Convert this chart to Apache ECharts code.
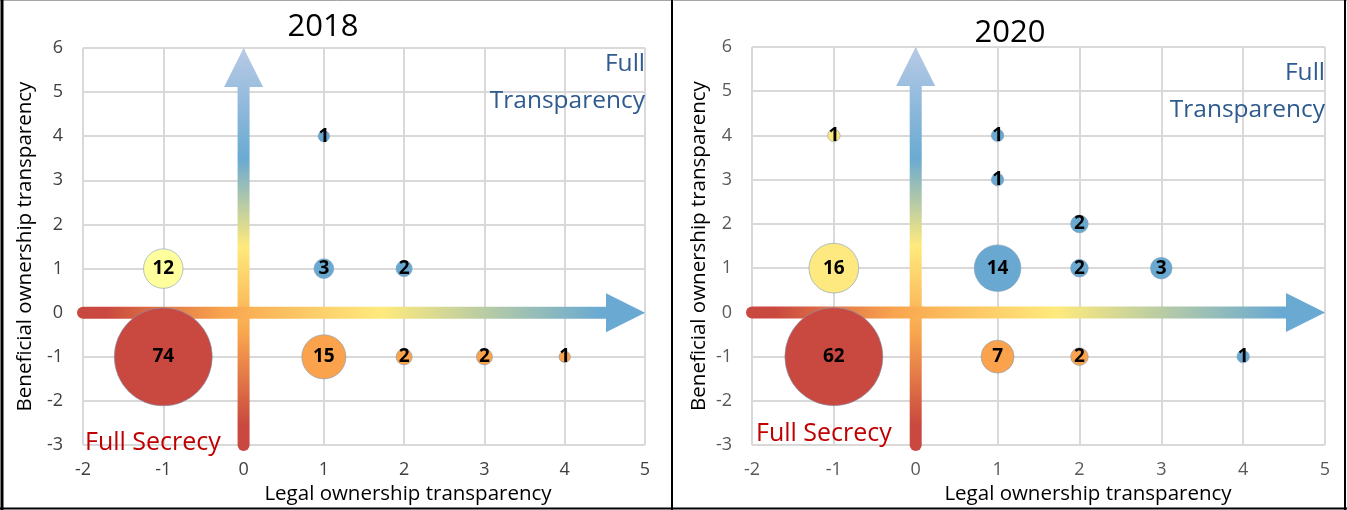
<!DOCTYPE html>
<html>
<head>
<meta charset="utf-8">
<script src="https://cdn.jsdelivr.net/npm/echarts@6/dist/echarts.min.js"></script>
<style>
  html, body { margin: 0; padding: 0; background: #fff; }
  #chart { width: 1347px; height: 510px; }
</style>
</head>
<body>
<div id="chart"></div>
<script>
// 2018 panel: legal (x), beneficial (y), number of jurisdictions
var legal2018      = [-1, -1, 1, 1, 2, 1, 2, 3, 4];
var beneficial2018 = [-1, 1, 4, 1, 1, -1, -1, -1, -1];
var count2018      = [74, 12, 1, 3, 2, 15, 2, 2, 1];
var group2018      = ['red', 'paleYellow', 'blue', 'blue', 'blue', 'orange', 'orange', 'orange', 'orange'];

// 2020 panel
var legal2020      = [-1, -1, -1, 1, 1, 2, 1, 2, 3, 1, 2, 4];
var beneficial2020 = [-1, 1, 4, 4, 3, 2, 1, 1, 1, -1, -1, -1];
var count2020      = [62, 16, 1, 1, 1, 2, 14, 2, 3, 7, 2, 1];
var group2020      = ['red', 'yellow', 'yellow', 'blue', 'blue', 'blue', 'blue', 'blue', 'blue', 'orange', 'orange', 'blue'];

// the two big arrows (vertical first, so the horizontal one is drawn on top)
var arrowFrom = [[0, -3], [-2, 0]];
var arrowTo   = [[0, 6], [5, 0]];

var FONT = '"Open Sans", sans-serif';

var palette = {
  red: '#C9483F',
  orange: '#FAA34C',
  paleYellow: '#FFFF9E',
  yellow: '#FDE980',
  blue: '#69A9D1'
};

// gradient stops, bottom->top for the vertical arrow, left->right for the horizontal one
var vStops = [
  {offset: 0, color: '#C9483F'},
  {offset: 0.05, color: '#C9483F'},
  {offset: 0.28, color: '#F9A54E'},
  {offset: 0.5, color: '#FFEA7C'},
  {offset: 0.72, color: '#6AAAD2'},
  {offset: 1, color: '#B8CAE6'}
];
var hStops = [
  {offset: 0, color: '#C9483F'},
  {offset: 0.04, color: '#C9483F'},
  {offset: 0.25, color: '#F9A54E'},
  {offset: 0.53, color: '#FFEA7C'},
  {offset: 0.92, color: '#6AAAD2'},
  {offset: 1, color: '#6AAAD2'}
];

function renderArrow(params, api) {
  var a = api.coord([api.value(0), api.value(1)]);
  var b = api.coord([api.value(2), api.value(3)]);
  var dx = b[0] - a[0], dy = b[1] - a[1];
  var len = Math.sqrt(dx * dx + dy * dy);
  var ux = dx / len, uy = dy / len;
  var head = 39, half = 19.5;
  var base = [b[0] - ux * head, b[1] - uy * head];
  var stops = params.dataIndex === 0 ? vStops : hStops;
  var grad = new echarts.graphic.LinearGradient(a[0], a[1], b[0], b[1], stops, true);
  return {
    type: 'group',
    children: [
      {
        type: 'line',
        shape: {x1: a[0], y1: a[1], x2: base[0] + ux * 2, y2: base[1] + uy * 2},
        style: {stroke: grad, lineWidth: 12, lineCap: 'round'}
      },
      {
        type: 'polygon',
        shape: {points: [
          [base[0] - uy * half, base[1] + ux * half],
          [b[0], b[1]],
          [base[0] + uy * half, base[1] - ux * half]
        ]},
        style: {fill: grad}
      }
    ]
  };
}

function arrowSeries(idx) {
  return {
    type: 'custom',
    xAxisIndex: idx,
    yAxisIndex: idx,
    z: 1,
    silent: true,
    renderItem: renderArrow,
    data: arrowFrom.map(function (f, i) {
      return [f[0], f[1], arrowTo[i][0], arrowTo[i][1]];
    })
  };
}

function bubbleSeries(idx, xs, ys, ns, groups) {
  var max = Math.max.apply(null, ns);
  return {
    type: 'scatter',
    xAxisIndex: idx,
    yAxisIndex: idx,
    z: 3,
    data: xs.map(function (x, i) {
      return {value: [x, ys[i], ns[i]], itemStyle: {color: palette[groups[i]]}};
    }),
    symbolSize: function (v) { return 98 * Math.sqrt(v[2] / max); },
    itemStyle: {borderColor: '#7F9CB9', borderWidth: 0.6, opacity: 1},
    label: {
      show: true,
      position: 'inside',
      formatter: function (p) { return p.value[2]; },
      color: '#000',
      fontWeight: 'bold',
      fontSize: 19,
      fontFamily: FONT
    },
    emphasis: {disabled: true}
  };
}

function xAxisFor(idx, pad, gap, tickColor) {
  return {
    type: 'value', gridIndex: idx, min: -2, max: 5, interval: 1,
    axisLine: {show: false}, axisTick: {show: false},
    splitLine: {show: true, showMinLine: true, showMaxLine: true, lineStyle: {color: '#D9D9D9', width: 2}},
    axisLabel: {color: tickColor, fontSize: 18, fontFamily: FONT, margin: 16},
    name: 'Legal ownership transparency',
    nameLocation: 'middle',
    nameGap: gap,
    nameTextStyle: {color: '#000', fontSize: 20.5, fontFamily: FONT, padding: [0, 0, 0, pad]}
  };
}

function yAxisFor(idx, gap, tickColor) {
  return {
    type: 'value', gridIndex: idx, min: -3, max: 6, interval: 1,
    axisLine: {show: false}, axisTick: {show: false},
    splitLine: {show: true, showMinLine: true, showMaxLine: true, lineStyle: {color: '#D9D9D9', width: 2}},
    axisLabel: {color: tickColor, fontSize: 18, fontFamily: FONT, margin: 20},
    name: 'Beneficial ownership transparency',
    nameLocation: 'middle',
    nameGap: gap,
    nameTextStyle: {color: '#000', fontSize: 20.5, fontFamily: FONT}
  };
}

function label(text, x, y, color, size, align) {
  return {
    type: 'text', x: x, y: y, z: 10,
    style: {
      text: text, fill: color, font: size + 'px ' + FONT,
      align: align, verticalAlign: 'middle'
    }
  };
}

function border(x1, y1, x2, y2, color, w) {
  return {type: 'line', shape: {x1: x1, y1: y1, x2: x2, y2: y2}, style: {stroke: color, lineWidth: w}, z: 20};
}

var chart = echarts.init(document.getElementById('chart'));
chart.setOption({
  backgroundColor: '#fff',
  animation: false,
  grid: [
    {left: 83, top: 48, width: 562, height: 404},
    {left: 752, top: 47, width: 573, height: 400}
  ],
  xAxis: [xAxisFor(0, 88, 26, '#404040'), xAxisFor(1, 99, 27, '#595959')],
  yAxis: [yAxisFor(0, 47, '#404040'), yAxisFor(1, 42, '#595959')],
  series: [
    arrowSeries(0),
    arrowSeries(1),
    bubbleSeries(0, legal2018, beneficial2018, count2018, group2018),
    bubbleSeries(1, legal2020, beneficial2020, count2020, group2020)
  ],
  graphic: [
    label('2018', 323, 27, '#000', 31, 'center'),
    label('2020', 1010, 33, '#000', 31, 'center'),
    label('Full', 645, 64, '#2E5A8E', 24.5, 'right'),
    label('Transparency', 645, 101, '#2E5A8E', 24.5, 'right'),
    label('Full', 1325, 73, '#2E5A8E', 24.5, 'right'),
    label('Transparency', 1325, 110, '#2E5A8E', 24.5, 'right'),
    label('Full Secrecy', 85, 443, '#C00000', 25, 'left'),
    label('Full Secrecy', 756, 434, '#C00000', 25, 'left'),
    border(0, 0.5, 1347, 0.5, '#A6A6A6', 1),
    border(2, 0, 2, 510, '#000', 3),
    border(672, 0, 672, 510, '#000', 2),
    border(1345, 0, 1345, 510, '#000', 2),
    border(0, 508.5, 1347, 508.5, '#000', 2)
  ]
});
</script>
</body>
</html>
